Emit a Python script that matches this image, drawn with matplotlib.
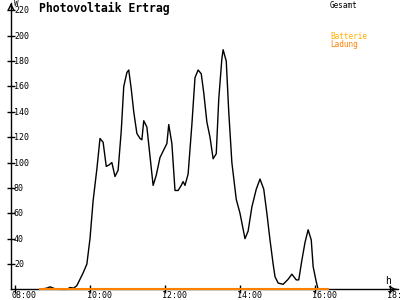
import matplotlib
matplotlib.use("Agg")
import matplotlib.pyplot as plt


# Gesamt-Ertrag (W), Zeitpunkte als HH:MM
zeiten = ["08:40", "08:51", "08:56", "09:04", "09:12", "09:23", "09:28", "09:34", "09:39",
          "09:49", "09:55", "10:00", "10:05", "10:11", "10:16", "10:21", "10:26", "10:30",
          "10:35", "10:40", "10:45", "10:50", "10:54", "10:59", "11:02", "11:06", "11:10",
          "11:15", "11:20", "11:23", "11:26", "11:31", "11:36", "11:41", "11:46", "11:52",
          "11:58", "12:03", "12:06", "12:11", "12:16", "12:21", "12:26", "12:29", "12:32",
          "12:37", "12:43", "12:48", "12:53", "12:58", "13:02", "13:07", "13:12", "13:17",
          "13:22", "13:26", "13:31", "13:33", "13:38", "13:42", "13:47", "13:54", "14:00",
          "14:08", "14:13", "14:19", "14:26", "14:32", "14:38", "14:43", "14:48", "14:53",
          "14:56", "15:01", "15:09", "15:17", "15:23", "15:30", "15:34", "15:39", "15:44",
          "15:49", "15:54", "15:57", "16:02", "16:05"]
gesamt = [0, 1, 2, 0.5, 0, 0, 1.5, 1, 3,
          13, 20, 40, 70, 95, 119, 116, 97, 98,
          100, 89, 94, 125, 160, 171, 173, 158, 140,
          123, 119, 118, 133, 128, 105, 82, 90, 104,
          110, 115, 130, 115, 78, 78, 82, 85, 82,
          91, 130, 167, 173, 170, 155, 132, 120, 103,
          107, 150, 182, 189, 180, 140, 100, 71, 60,
          40, 46, 65, 79, 87, 79, 60, 39, 20,
          10, 5, 4, 8, 12, 7.5, 7.5, 23, 37,
          47, 39, 18, 6, 0]

# Batterie-Ladung (W)
ladung_zeiten = ["08:40", "16:21"]
ladung = [0, 0]

y_ticks = [20, 40, 60, 80, 100, 120, 140, 160, 180, 200, 220]
x_ticks = ["08:00", "10:00", "12:00", "14:00", "16:00", "18:00"]
x_tick_labels = ["08:00", "10:00", "12:00", "14:00", "16:00", "18:"]


def to_min(s):
    h, m = s.split(":")
    return int(h) * 60 + int(m)


mono = "DejaVu Sans Mono"
fig = plt.figure(figsize=(4, 3), dpi=100)
ax = fig.add_axes([0, 0, 1, 1])
ax.set_xlim(456, 1096)
ax.set_ylim(-8.36, 228.2)

x0 = 473.6  # position der y-achse
ax.spines["top"].set_visible(False)
ax.spines["right"].set_visible(False)
ax.spines["left"].set_position(("data", x0))
ax.spines["bottom"].set_position(("data", 0))
ax.spines["left"].set_bounds(0, 226)
ax.spines["bottom"].set_bounds(x0, 1093)
for s in ["left", "bottom"]:
    ax.spines[s].set_linewidth(1)

xt = [to_min(t) for t in x_ticks]
ax.set_xticks(xt)
ax.set_yticks(y_ticks)
ax.tick_params(direction="inout", length=6, width=1, labelleft=False, labelbottom=False)

for v in y_ticks:
    ax.text(478.4, v - 0.4, str(v), family=mono, fontsize=6, ha="left", va="center")
for t, lbl in zip(xt, x_tick_labels):
    ax.text(t - 4.8, -1.6, lbl, family=mono, fontsize=6, ha="left", va="top")

# pfeile an den achsen
ax.annotate("", xy=(x0, 228), xytext=(x0, 221),
            arrowprops=dict(arrowstyle="->", lw=1, color="black"))
ax.annotate("", xy=(1095, 0), xytext=(1085, 0),
            arrowprops=dict(arrowstyle="->", lw=1, color="black"))
ax.text(478.4, 228.6, "W", family=mono, fontsize=5.5, ha="left", va="top")
ax.text(1072, 3, "h", family=mono, fontsize=7, ha="left", va="bottom")

ax.plot([to_min(t) for t in zeiten], gesamt, color="black", lw=1, zorder=3)
ax.plot([to_min(t) for t in ladung_zeiten], ladung, color="#ff8000", lw=1.5, zorder=4)

fig.text(39 / 400, 1 - 2 / 300, "Photovoltaik Ertrag", family=mono, fontsize=8.3,
         fontweight="bold", ha="left", va="top")
fig.text(330 / 400, 1 - 1 / 300, "Gesamt", family=mono, fontsize=5.5, ha="left", va="top")
fig.text(330 / 400, 1 - 32 / 300, "Batterie", family=mono, fontsize=5.5,
         color="#ffb000", ha="left", va="top")
fig.text(330 / 400, 1 - 40 / 300, "Ladung", family=mono, fontsize=5.5,
         color="#ff8000", ha="left", va="top")

fig.savefig("out.png", dpi=100)
